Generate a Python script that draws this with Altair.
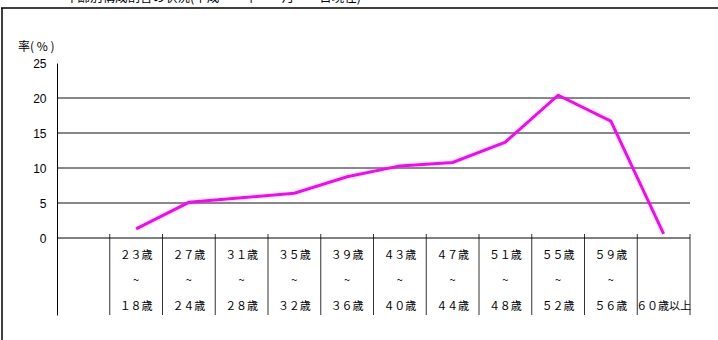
import altair as alt
import pandas as pd

# ---- data ----
age_top = ["２３歳", "２７歳", "３１歳", "３５歳", "３９歳", "４３歳", "４７歳", "５１歳", "５５歳", "５９歳", ""]
age_mid = ["~", "~", "~", "~", "~", "~", "~", "~", "~", "~", ""]
age_bottom = ["１８歳", "２４歳", "２８歳", "３２歳", "３６歳", "４０歳", "４４歳", "４８歳", "５２歳", "５６歳", "６０歳以上"]
rates = [1.3, 5.1, 5.75, 6.4, 8.75, 10.3, 10.8, 13.7, 20.4, 16.7, 0.6]
grid_values = [5, 10, 15, 20]
y_ticks = [0, 5, 10, 15, 20, 25]
n_bands = 12  # first band is empty

W, H = 633, 252
Y_MIN, Y_MAX = -11, 25

pos = [i + 1.5 for i in range(len(rates))]
df = pd.DataFrame({"pos": pos, "rate": rates, "top": age_top, "mid": age_mid, "bottom": age_bottom})
sep_df = pd.DataFrame({"b": list(range(1, n_bands + 1))})
grid_df = pd.DataFrame({"g": grid_values})
one_df = pd.DataFrame({"k": ["frame"]})

xs = alt.Scale(domain=[0, n_bands], nice=False, zero=False)
ys = alt.Scale(domain=[Y_MIN, Y_MAX], nice=False, zero=False)

base_y_axis = alt.Axis(values=y_ticks, ticks=False, grid=False, domainColor="#000",
                       labelFont="Liberation Sans", labelFontSize=12, labelColor="#000",
                       labelPadding=11, title=None)

line = alt.Chart(df).mark_line(color="#FF00FF", strokeWidth=3).encode(
    x=alt.X("pos:Q", scale=xs, axis=None),
    y=alt.Y("rate:Q", scale=ys, axis=base_y_axis),
)

grid = alt.Chart(grid_df).mark_rule(color="#111", strokeWidth=1).encode(
    y=alt.Y("g:Q", scale=ys, axis=base_y_axis),
    x=alt.value(0), x2=alt.value(W),
)

zero = alt.Chart(pd.DataFrame({"z": [0]})).mark_rule(color="#000", strokeWidth=1).encode(
    y=alt.Y("z:Q", scale=ys, axis=base_y_axis),
    x=alt.value(0), x2=alt.value(W),
)

seps = alt.Chart(sep_df).mark_rule(color="#333", strokeWidth=1).encode(
    x=alt.X("b:Q", scale=xs, axis=None),
    y=alt.value(H), y2=alt.value(171),
)

def label_layer(field, ypix, size=11):
    return alt.Chart(df).mark_text(font="Noto Sans CJK JP", fontSize=size, color="#000",
                                   align="center", baseline="middle").encode(
        x=alt.X("pos:Q", scale=xs, axis=None), y=alt.value(ypix), text=f"{field}:N")

lab_top = label_layer("top", 256 - 63)
lab_mid = label_layer("mid", 281 - 63, 11)
lab_bot = label_layer("bottom", 307 - 63)

ytitle = alt.Chart(pd.DataFrame({"t": ["率( % )"]})).mark_text(
    font="Noto Sans CJK JP", fontSize=12, color="#000", align="left", baseline="middle").encode(
    x=alt.value(18 - 57), y=alt.value(47 - 63), text="t:N")

title = alt.Chart(pd.DataFrame({"t": ["年齢別構成割合の状況(平成　　年　　月　　日現在)"]})).mark_text(
    font="Noto Sans CJK JP", fontSize=12.5, color="#000", align="left", baseline="bottom").encode(
    x=alt.value(65 - 57), y=alt.value(5 - 63), text="t:N")

frame_top = alt.Chart(one_df).mark_rule(color="#000", strokeWidth=1.5).encode(
    x=alt.value(1 - 57), x2=alt.value(718 - 57), y=alt.value(8 - 63), detail="k:N")
frame_left = alt.Chart(one_df).mark_rule(color="#000", strokeWidth=1.5).encode(
    x=alt.value(2 - 57), y=alt.value(8 - 63), y2=alt.value(340 - 63), detail="k:N")

chart = alt.layer(
    grid, seps, zero, line, lab_top, lab_mid, lab_bot, ytitle, title, frame_top, frame_left
).properties(
    width=W, height=H,
    padding={"left": 57, "top": 63, "right": 28, "bottom": 25},
    autosize=alt.AutoSizeParams(type="none"),
    background="white",
).configure_view(stroke=None)

chart.save("out.html", embed_options={"renderer": "svg", "actions": False})
